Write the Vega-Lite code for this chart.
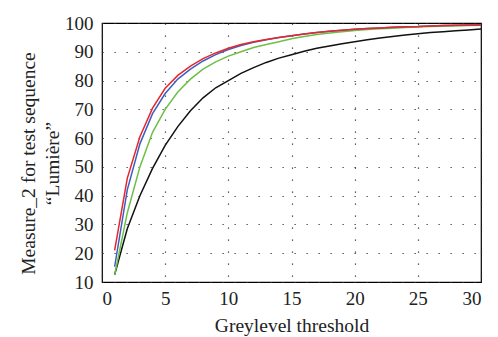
{
  "$schema": "https://vega.github.io/schema/vega-lite/v6.json",
  "width": 379,
  "height": 259,
  "autosize": "none",
  "padding": {"left": 102, "top": 23, "right": 17, "bottom": 55},
  "background": "white",
  "config": {
    "font": "'Liberation Serif', 'DejaVu Serif', serif",
    "view": {"stroke": "black", "strokeWidth": 1.2},
    "axis": {
      "labelFont": "'Liberation Serif', 'DejaVu Serif', serif",
      "titleFont": "'Liberation Serif', 'DejaVu Serif', serif",
      "labelFontSize": 19,
      "titleFontSize": 19.5,
      "titleFontWeight": "normal",
      "labelColor": "#222",
      "titleColor": "#222",
      "domain": false,
      "ticks": false,
      "gridColor": "#333",
      "gridOpacity": 1,
      "gridWidth": 1.2,
      "gridDash": [1.2, 10.8]
    }
  },
  "data": {
    "values": [
      {"t": 1, "black": 12.5, "green": 12.4, "blue": 15.3, "red": 21},
      {"t": 2, "black": 28.5, "green": 34, "blue": 42, "red": 46},
      {"t": 3, "black": 40, "green": 50, "blue": 58, "red": 60.5},
      {"t": 4, "black": 49.5, "green": 62, "blue": 68.5, "red": 70.4},
      {"t": 5, "black": 57.5, "green": 70, "blue": 75.5, "red": 77.3},
      {"t": 6, "black": 64, "green": 76, "blue": 80.5, "red": 81.8},
      {"t": 7, "black": 69.5, "green": 80.5, "blue": 84, "red": 85},
      {"t": 8, "black": 74, "green": 84, "blue": 86.8, "red": 87.6},
      {"t": 9, "black": 77.5, "green": 86.5, "blue": 89, "red": 89.6},
      {"t": 10, "black": 80, "green": 88.5, "blue": 90.8, "red": 91.2},
      {"t": 11, "black": 82.5, "green": 90, "blue": 92.2, "red": 92.5},
      {"t": 12, "black": 84.5, "green": 91.5, "blue": 93.3, "red": 93.5},
      {"t": 13, "black": 86.3, "green": 92.5, "blue": 94.2, "red": 94.3},
      {"t": 14, "black": 87.8, "green": 93.5, "blue": 95, "red": 95},
      {"t": 15, "black": 89, "green": 94.5, "blue": 95.6, "red": 95.6},
      {"t": 16, "black": 90.2, "green": 95.3, "blue": 96.2, "red": 96.2},
      {"t": 17, "black": 91.2, "green": 96, "blue": 96.7, "red": 96.7},
      {"t": 18, "black": 92, "green": 96.5, "blue": 97.1, "red": 97.1},
      {"t": 19, "black": 92.8, "green": 97, "blue": 97.5, "red": 97.5},
      {"t": 20, "black": 93.5, "green": 97.4, "blue": 97.8, "red": 97.8},
      {"t": 21, "black": 94.2, "green": 97.7, "blue": 98.1, "red": 98.1},
      {"t": 22, "black": 94.8, "green": 98, "blue": 98.3, "red": 98.3},
      {"t": 23, "black": 95.3, "green": 98.2, "blue": 98.5, "red": 98.5},
      {"t": 24, "black": 95.8, "green": 98.4, "blue": 98.7, "red": 98.7},
      {"t": 25, "black": 96.3, "green": 98.6, "blue": 98.8, "red": 98.8},
      {"t": 26, "black": 96.7, "green": 98.8, "blue": 99, "red": 99},
      {"t": 27, "black": 97, "green": 98.9, "blue": 99.1, "red": 99.1},
      {"t": 28, "black": 97.3, "green": 99, "blue": 99.2, "red": 99.2},
      {"t": 29, "black": 97.6, "green": 99.1, "blue": 99.3, "red": 99.3},
      {"t": 30, "black": 97.9, "green": 99.2, "blue": 99.3, "red": 99.4}
    ]
  },
  "transform": [
    {"fold": ["black", "green", "blue", "red"], "as": ["series", "value"]}
  ],
  "mark": {"type": "line", "strokeWidth": 1.5},
  "encoding": {
    "x": {
      "field": "t",
      "type": "quantitative",
      "scale": {"domain": [0, 30], "nice": false},
      "axis": {
        "values": [0, 5, 10, 15, 20, 25, 30],
        "title": "Greylevel threshold",
        "labelPadding": 7,
        "titlePadding": 8
      }
    },
    "y": {
      "field": "value",
      "type": "quantitative",
      "scale": {"domain": [10, 100], "nice": false, "zero": false},
      "axis": {
        "values": [10, 20, 30, 40, 50, 60, 70, 80, 90, 100],
        "title": ["Measure_2 for test sequence", "“Lumière”"],
        "labelPadding": 9,
        "titlePadding": 2,
        "titleLineHeight": 24,
        "titleY": 140
      }
    },
    "color": {
      "field": "series",
      "type": "nominal",
      "scale": {
        "domain": ["black", "green", "blue", "red"],
        "range": ["#111111", "#6cbf46", "#3c5fc0", "#e8262b"]
      },
      "legend": null
    },
    "order": {"field": "series"}
  }
}
